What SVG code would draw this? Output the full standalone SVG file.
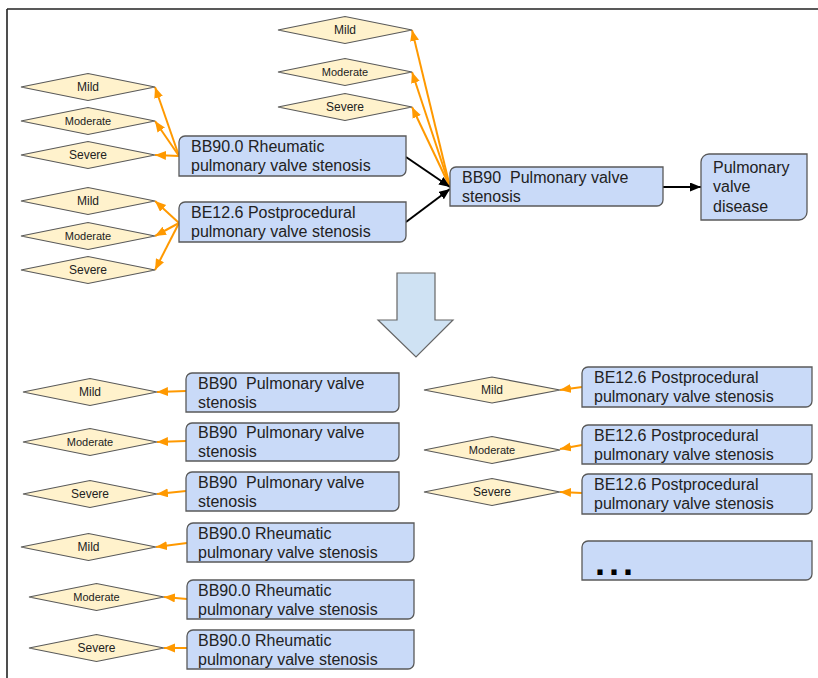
<svg xmlns="http://www.w3.org/2000/svg" width="818" height="678" viewBox="0 0 818 678">
<style>
.box{fill:#c9daf8;stroke:#595959;stroke-width:1.3}
.dia{fill:#fff2cc;stroke:#595959;stroke-width:1.2}
.bt{font-family:"Liberation Sans",Arial,sans-serif;font-size:16px;fill:#222}
.dt{font-family:"Liberation Sans",Arial,sans-serif;font-size:12px;fill:#222;text-anchor:middle}
.dm{font-size:11px}
.or{stroke:#ff9900;stroke-width:2;fill:none;marker-end:url(#ao)}
.bk{stroke:#000;stroke-width:2;fill:none;marker-end:url(#ab)}
</style>
<defs>
<marker id="ao" markerUnits="userSpaceOnUse" markerWidth="12" markerHeight="10" refX="11" refY="4.5" orient="auto"><path d="M0,0 L11,4.5 L0,9 Z" fill="#ff9900"/></marker>
<marker id="ab" markerUnits="userSpaceOnUse" markerWidth="12" markerHeight="10" refX="11" refY="4.5" orient="auto"><path d="M0,0 L11,4.5 L0,9 Z" fill="#000"/></marker>
</defs>
<g id="frame" stroke="#222" stroke-width="1.6"><line x1="7" y1="9" x2="818" y2="9"/><line x1="7" y1="9" x2="7" y2="678"/></g>
<g id="connectors">
<line class="or" x1="450" y1="187" x2="412" y2="30"/>
<line class="or" x1="450" y1="187" x2="412" y2="72"/>
<line class="or" x1="450" y1="187" x2="412" y2="107"/>
<line class="or" x1="179" y1="156" x2="155" y2="87"/>
<line class="or" x1="179" y1="156" x2="155" y2="121"/>
<line class="or" x1="179" y1="156" x2="155" y2="155"/>
<line class="or" x1="179" y1="223" x2="155" y2="201"/>
<line class="or" x1="179" y1="223" x2="155" y2="236"/>
<line class="or" x1="179" y1="223" x2="155" y2="270"/>
<line class="bk" x1="406" y1="157" x2="450" y2="187"/>
<line class="bk" x1="406" y1="222" x2="450" y2="189"/>
<line class="bk" x1="663" y1="187" x2="701" y2="187"/>
<line class="or" x1="186" y1="391" x2="157" y2="392"/>
<line class="or" x1="186" y1="441" x2="157" y2="442"/>
<line class="or" x1="186" y1="491" x2="157" y2="494"/>
<line class="or" x1="187" y1="543" x2="156" y2="547"/>
<line class="or" x1="187" y1="599" x2="164" y2="597"/>
<line class="or" x1="187" y1="648" x2="164" y2="648"/>
<line class="or" x1="582" y1="387" x2="560" y2="390"/>
<line class="or" x1="582" y1="445" x2="560" y2="449"/>
<line class="or" x1="582" y1="493" x2="560" y2="492"/>
</g>
<g id="bigarrow"><polygon points="397,273 435,273 435,320 453,320 416,357 378,320 397,320" fill="#cfe2f3" stroke="#666" stroke-width="1.2"/></g>
<g id="n_bb900"><path class="box" d="M185,136 H406 V170 A6 6 0 0 1 400,176 H179 V142 A6 6 0 0 1 185,136 Z"/><text class="bt" x="191" y="152">BB90.0 Rheumatic</text><text class="bt" x="191" y="171">pulmonary valve stenosis</text></g>
<g id="n_be126"><path class="box" d="M185,202 H406 V236 A6 6 0 0 1 400,242 H179 V208 A6 6 0 0 1 185,202 Z"/><text class="bt" x="191" y="218">BE12.6 Postprocedural</text><text class="bt" x="191" y="237">pulmonary valve stenosis</text></g>
<g id="n_bb90"><path class="box" d="M456,167 H663 V200 A6 6 0 0 1 657,206 H450 V173 A6 6 0 0 1 456,167 Z"/><text class="bt" x="462" y="183" xml:space="preserve">BB90  Pulmonary valve</text><text class="bt" x="462" y="202">stenosis</text></g>
<g id="n_pvd"><path class="box" d="M709,154 H807 V212 A8 8 0 0 1 799,220 H701 V162 A8 8 0 0 1 709,154 Z"/><text class="bt" x="713" y="173">Pulmonary</text><text class="bt" x="713" y="192">valve</text><text class="bt" x="713" y="212">disease</text></g>
<g id="d_top_mild"><polygon class="dia" points="278,30 345,16.5 412,30 345,43.5"/><text class="dt" x="345" y="34">Mild</text></g>
<g id="d_top_mod"><polygon class="dia" points="278,72 345,58.5 412,72 345,85.5"/><text class="dt dm" x="345" y="76">Moderate</text></g>
<g id="d_top_sev"><polygon class="dia" points="278,107 345,93.5 412,107 345,120.5"/><text class="dt" x="345" y="111">Severe</text></g>
<g id="d_r_mild"><polygon class="dia" points="21,87 88,73.5 155,87 88,100.5"/><text class="dt" x="88" y="91">Mild</text></g>
<g id="d_r_mod"><polygon class="dia" points="21,121 88,107.5 155,121 88,134.5"/><text class="dt dm" x="88" y="125">Moderate</text></g>
<g id="d_r_sev"><polygon class="dia" points="21,155 88,141.5 155,155 88,168.5"/><text class="dt" x="88" y="159">Severe</text></g>
<g id="d_p_mild"><polygon class="dia" points="21,201 88,187.5 155,201 88,214.5"/><text class="dt" x="88" y="205">Mild</text></g>
<g id="d_p_mod"><polygon class="dia" points="21,236 88,222.5 155,236 88,249.5"/><text class="dt dm" x="88" y="240">Moderate</text></g>
<g id="d_p_sev"><polygon class="dia" points="21,270 88,256.5 155,270 88,283.5"/><text class="dt" x="88" y="274">Severe</text></g>
<g id="l1"><path class="box" d="M192,373 H399 V406 A6 6 0 0 1 393,412 H186 V379 A6 6 0 0 1 192,373 Z"/><text class="bt" x="198" y="389" xml:space="preserve">BB90  Pulmonary valve</text><text class="bt" x="198" y="408">stenosis</text></g>
<g id="l2"><path class="box" d="M192,423 H399 V455 A6 6 0 0 1 393,461 H186 V429 A6 6 0 0 1 192,423 Z"/><text class="bt" x="198" y="438" xml:space="preserve">BB90  Pulmonary valve</text><text class="bt" x="198" y="457">stenosis</text></g>
<g id="l3"><path class="box" d="M192,472 H399 V505 A6 6 0 0 1 393,511 H186 V478 A6 6 0 0 1 192,472 Z"/><text class="bt" x="198" y="488" xml:space="preserve">BB90  Pulmonary valve</text><text class="bt" x="198" y="507">stenosis</text></g>
<g id="l4"><path class="box" d="M193,523 H414 V556 A6 6 0 0 1 408,562 H187 V529 A6 6 0 0 1 193,523 Z"/><text class="bt" x="198" y="539">BB90.0 Rheumatic</text><text class="bt" x="198" y="558">pulmonary valve stenosis</text></g>
<g id="l5"><path class="box" d="M193,580 H414 V613 A6 6 0 0 1 408,619 H187 V586 A6 6 0 0 1 193,580 Z"/><text class="bt" x="198" y="596">BB90.0 Rheumatic</text><text class="bt" x="198" y="615">pulmonary valve stenosis</text></g>
<g id="l6"><path class="box" d="M193,630 H414 V663 A6 6 0 0 1 408,669 H187 V636 A6 6 0 0 1 193,630 Z"/><text class="bt" x="198" y="646">BB90.0 Rheumatic</text><text class="bt" x="198" y="665">pulmonary valve stenosis</text></g>
<g id="ld1"><polygon class="dia" points="23,392 90,378.5 157,392 90,405.5"/><text class="dt" x="90" y="396">Mild</text></g>
<g id="ld2"><polygon class="dia" points="23,442 90,428.5 157,442 90,455.5"/><text class="dt dm" x="90" y="446">Moderate</text></g>
<g id="ld3"><polygon class="dia" points="23,494 90,480.5 157,494 90,507.5"/><text class="dt" x="90" y="498">Severe</text></g>
<g id="ld4"><polygon class="dia" points="21,547 88.5,533.5 156,547 88.5,560.5"/><text class="dt" x="88.5" y="551">Mild</text></g>
<g id="ld5"><polygon class="dia" points="29,597 96.5,583.5 164,597 96.5,610.5"/><text class="dt dm" x="96.5" y="601">Moderate</text></g>
<g id="ld6"><polygon class="dia" points="29,648 96.5,634.5 164,648 96.5,661.5"/><text class="dt" x="96.5" y="652">Severe</text></g>
<g id="r1"><path class="box" d="M588,367 H812 V401 A6 6 0 0 1 806,407 H582 V373 A6 6 0 0 1 588,367 Z"/><text class="bt" x="594" y="383">BE12.6 Postprocedural</text><text class="bt" x="594" y="402">pulmonary valve stenosis</text></g>
<g id="r2"><path class="box" d="M588,425 H812 V458 A6 6 0 0 1 806,464 H582 V431 A6 6 0 0 1 588,425 Z"/><text class="bt" x="594" y="441">BE12.6 Postprocedural</text><text class="bt" x="594" y="460">pulmonary valve stenosis</text></g>
<g id="r3"><path class="box" d="M588,474 H812 V508 A6 6 0 0 1 806,514 H582 V480 A6 6 0 0 1 588,474 Z"/><text class="bt" x="594" y="490">BE12.6 Postprocedural</text><text class="bt" x="594" y="509">pulmonary valve stenosis</text></g>
<g id="r4"><path class="box" d="M588,541 H812 V574 A6 6 0 0 1 806,580 H582 V547 A6 6 0 0 1 588,541 Z"/><text x="595" y="575" font-family="Liberation Sans,Arial,sans-serif" font-size="36" font-weight="bold" letter-spacing="4" fill="#000">...</text></g>
<g id="rd1"><polygon class="dia" points="424,390 492,377 560,390 492,403"/><text class="dt" x="492" y="394">Mild</text></g>
<g id="rd2"><polygon class="dia" points="424,450 492,436.5 560,450 492,463.5"/><text class="dt dm" x="492" y="454">Moderate</text></g>
<g id="rd3"><polygon class="dia" points="424,492 492,478.5 560,492 492,505.5"/><text class="dt" x="492" y="496">Severe</text></g>
</svg>
